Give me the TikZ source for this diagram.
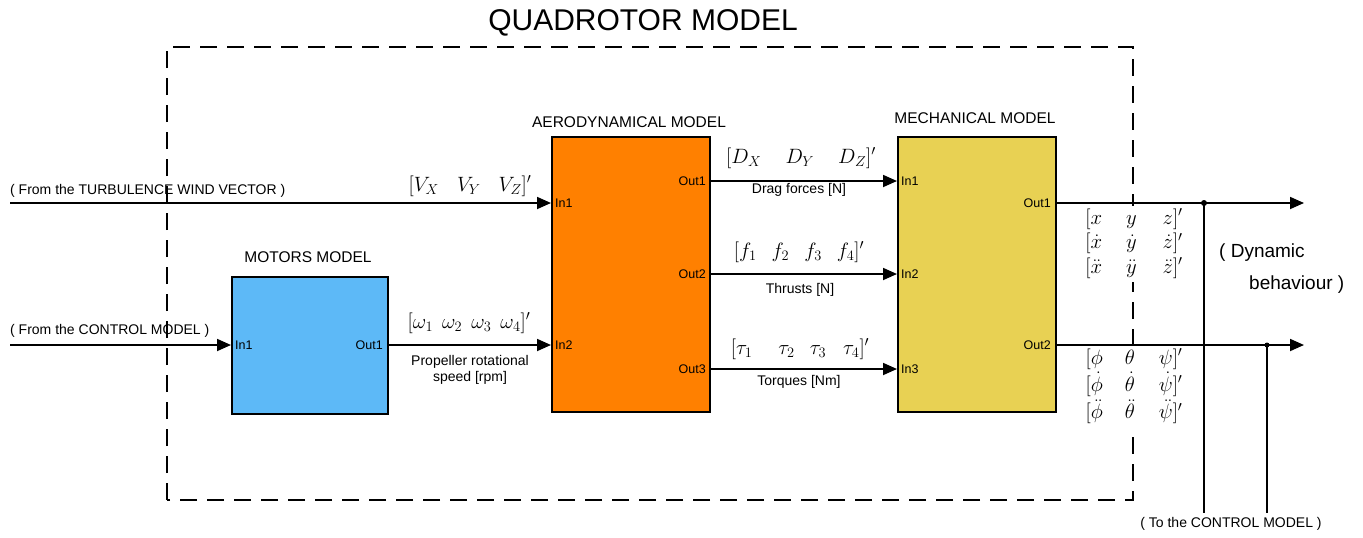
\documentclass[tikz,border=0pt]{standalone}
\usepackage{fontspec}
\setmainfont{Liberation Sans}
\usetikzlibrary{arrows.meta}
\definecolor{motorblue}{HTML}{5DB9F7}
\definecolor{aeroorange}{HTML}{FF8000}
\definecolor{mechyellow}{HTML}{E8D153}
\begin{document}
\begin{tikzpicture}[x=1pt,y=-1pt,
  blk/.style={draw=black,line width=2pt,anchor=north west,inner sep=0pt},
  wire/.style={line width=1.8pt,-{Triangle[length=14pt,width=12pt]}},
  plain/.style={line width=1.8pt},
  port/.style={font=\fontsize{12.5}{14}\selectfont,inner sep=0pt},
  lbl/.style={font=\fontsize{14}{16}\selectfont,inner sep=0pt,align=center},
  ttl/.style={font=\fontsize{15.5}{18}\selectfont,inner sep=0pt},
  mth/.style={font=\fontsize{20.74}{24}\selectfont,inner sep=0pt},
  mat/.style={font=\fontsize{20.74}{24}\selectfont,inner sep=1pt,fill=white},
  frame/.style={line width=1.8pt,dash pattern=on 17pt off 10pt},
  dot/.style={circle,fill=black,inner sep=0pt,minimum size=6pt}]
\useasboundingbox (0,0) rectangle (1363,538);
% frame
\draw[frame] (167,500) -- (167,47) -- (1133,47) -- (1133,500) -- cycle;
\node[font=\fontsize{30}{34}\selectfont,inner sep=0pt] (title) at (643,23) {QUADROTOR MODEL};
% output matrices (cover the frame)
\node[mat] (m1) at (1134,244) {\renewcommand{\arraystretch}{1.02}$\begin{array}{@{}l@{\hspace{24pt}}c@{\hspace{26pt}}l@{}}{[}x & y & z]'\\ {[}\dot x & \dot y & \dot z]'\\ {[}\ddot x & \ddot y & \ddot z]'\end{array}$};
\node[mat] (m2) at (1134,386) {\renewcommand{\arraystretch}{1.13}$\begin{array}{@{}l@{\hspace{22pt}}c@{\hspace{24pt}}l@{}}{[}\phi & \theta & \psi]'\\ {[}\dot\phi & \dot\theta & \dot\psi]'\\ {[}\ddot\phi & \ddot\theta & \ddot\psi]'\end{array}$};
% blocks
\node[blk,fill=motorblue,minimum width=156pt,minimum height=137pt] (mot) at (231,276) {};
\node[blk,fill=aeroorange,minimum width=158pt,minimum height=275pt] (aero) at (551,136) {};
\node[blk,fill=mechyellow,minimum width=158pt,minimum height=275pt] (mech) at (897,136) {};
\node[ttl] (tmot) at (308,257) {MOTORS MODEL};
\node[ttl] (taero) at (629,122) {AERODYNAMICAL MODEL};
\node[ttl] (tmech) at (975,118) {MECHANICAL MODEL};
% ports
\coordinate (src1) at (10,203);
\coordinate (src2) at (10,345);
\coordinate (mIn1) at (231,345);
\coordinate (mOut1) at (387,345);
\coordinate (aIn1) at (551,203);
\coordinate (aIn2) at (551,345);
\coordinate (aOut1) at (709,181);
\coordinate (aOut2) at (709,274);
\coordinate (aOut3) at (709,369);
\coordinate (cIn1) at (897,181);
\coordinate (cIn2) at (897,274);
\coordinate (cIn3) at (897,369);
\coordinate (cOut1) at (1055,203);
\coordinate (cOut2) at (1055,345);
\coordinate (end1) at (1304,203);
\coordinate (end2) at (1304,345);
\coordinate (j1) at (1204,203);
\coordinate (j2) at (1267,345);
\coordinate (b1) at (1204,513);
\coordinate (b2) at (1267,513);
\node[port,anchor=west] (pmi) at ([xshift=4pt]mIn1) {In1};
\node[port,anchor=east] (pmo) at ([xshift=-4pt]mOut1) {Out1};
\node[port,anchor=west] (pai1) at ([xshift=4pt]aIn1) {In1};
\node[port,anchor=west] (pai2) at ([xshift=4pt]aIn2) {In2};
\node[port,anchor=east] (pao1) at ([xshift=-3pt]aOut1) {Out1};
\node[port,anchor=east] (pao2) at ([xshift=-3pt]aOut2) {Out2};
\node[port,anchor=east] (pao3) at ([xshift=-3pt]aOut3) {Out3};
\node[port,anchor=west] (pci1) at ([xshift=4pt]cIn1) {In1};
\node[port,anchor=west] (pci2) at ([xshift=4pt]cIn2) {In2};
\node[port,anchor=west] (pci3) at ([xshift=4pt]cIn3) {In3};
\node[port,anchor=east] (pco1) at ([xshift=-4pt]cOut1) {Out1};
\node[port,anchor=east] (pco2) at ([xshift=-4pt]cOut2) {Out2};
% connectors
\draw[wire] (src1) -- (aIn1);
\draw[wire] (src2) -- (mIn1);
\draw[wire] (mOut1) -- (aIn2);
\draw[wire] (aOut1) -- (cIn1);
\draw[wire] (aOut2) -- (cIn2);
\draw[wire] (aOut3) -- (cIn3);
\draw[wire] (cOut1) -- (end1);
\draw[wire] (cOut2) -- (end2);
\draw[plain] (j1) -- (b1);
\draw[plain] (j2) -- (b2);
\node[dot] (d1) at (j1) {};
\node[dot,minimum size=5pt] (d2) at (j2) {};
% labels
\node[lbl,anchor=west] (lw) at (10,191) {( From the TURBULENCE WIND VECTOR )};
\node[lbl,anchor=west] (lc) at (10,331) {( From the CONTROL MODEL )};
\node[mth] (vv) at (470,186) {$[V_X\hspace{18pt}V_Y\hspace{18pt}V_Z]'$};
\node[mth] (vw) at (469,323) {$[\omega_1\hspace{9pt}\omega_2\hspace{9pt}\omega_3\hspace{9pt}\omega_4]'$};
\node[lbl] (lp) at (470,370) {Propeller rotational\\speed [rpm]};
\node[mth] (vd) at (801,158) {$[D_X\hspace{24pt}D_Y\hspace{24pt}D_Z]'$};
\node[lbl] (ld) at (799,190) {Drag forces [N]};
\node[mth] (vf) at (799,252) {$[f_1\hspace{15pt}f_2\hspace{15pt}f_3\hspace{15pt}f_4]'$};
\node[lbl] (lf) at (800,290) {Thrusts [N]};
\node[mth] (vt) at (800,349) {$[\tau_1\hspace{26pt}\tau_2\hspace{15pt}\tau_3\hspace{17pt}\tau_4]'$};
\node[lbl] (lt) at (799,382) {Torques [Nm]};
\node[font=\fontsize{19}{21}\selectfont,inner sep=0pt,anchor=west] (dyn1) at (1219,253) {( Dynamic};
\node[font=\fontsize{19}{21}\selectfont,inner sep=0pt,anchor=west] (dyn2) at (1249,285) {behaviour )};
\node[lbl] (lto) at (1231,524) {( To the CONTROL MODEL )};
\end{tikzpicture}
\end{document}
